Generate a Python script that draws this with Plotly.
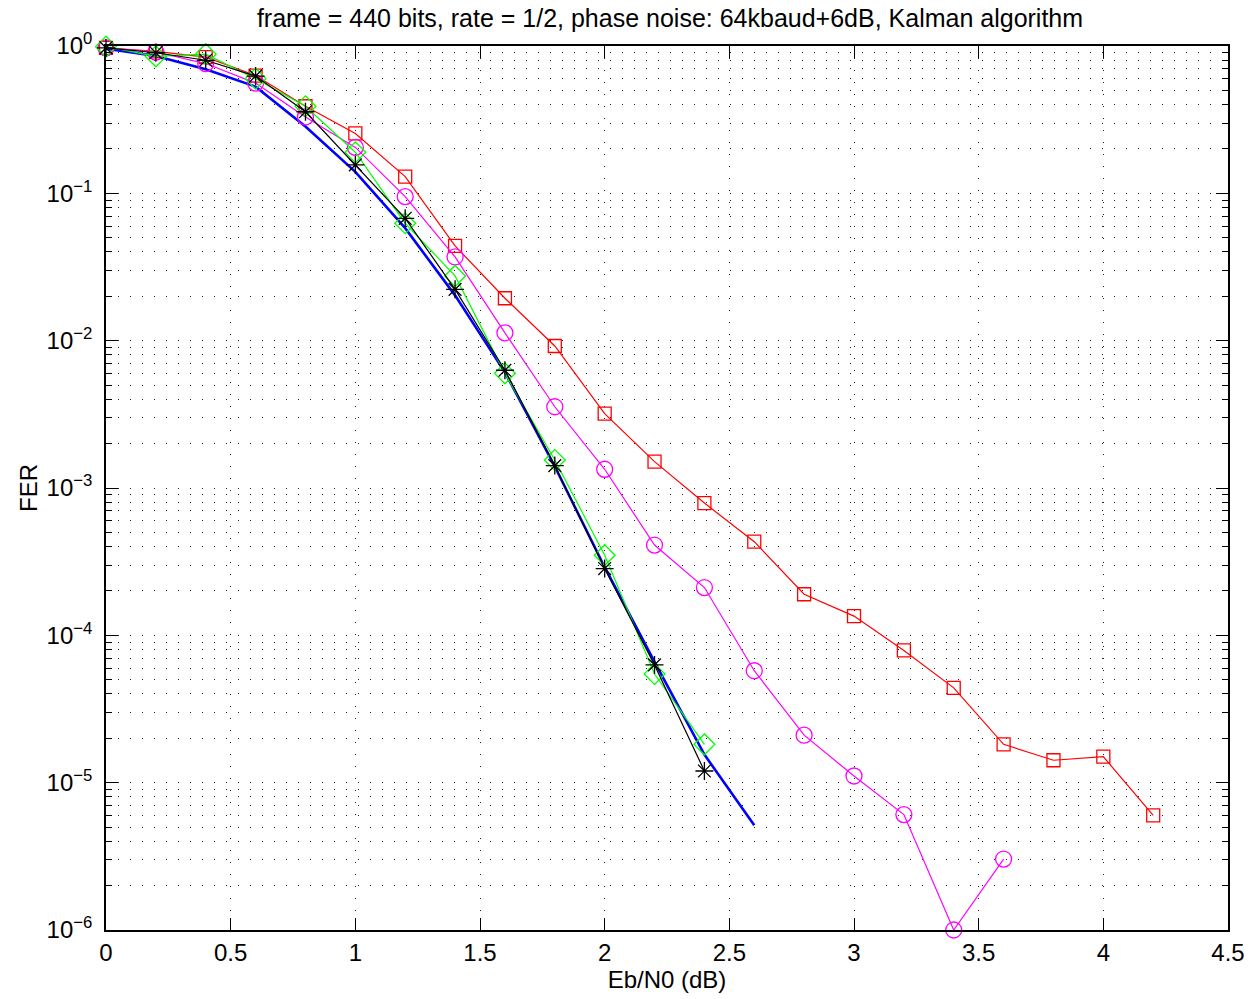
import plotly.graph_objects as go

x_red = [0, 0.2, 0.4, 0.6, 0.8, 1.0, 1.2, 1.4, 1.6, 1.8, 2.0, 2.2, 2.4, 2.6, 2.8, 3.0, 3.2, 3.4, 3.6, 3.8, 4.0, 4.2]
fer_red = [0.97, 0.92, 0.84, 0.63, 0.39, 0.255, 0.13, 0.044, 0.0194, 0.0092, 0.0032, 0.00151, 0.00079,
           0.000432, 0.00019, 0.000135, 7.9e-5, 4.4e-5, 1.82e-5, 1.42e-5, 1.5e-5, 6.0e-6]

x_mag = [0, 0.2, 0.4, 0.6, 0.8, 1.0, 1.2, 1.4, 1.6, 1.8, 2.0, 2.2, 2.4, 2.6, 2.8, 3.0, 3.2, 3.4, 3.6]
fer_mag = [0.97, 0.91, 0.76, 0.56, 0.33, 0.205, 0.095, 0.037, 0.0113, 0.00356, 0.00134, 0.00041,
           0.000211, 5.75e-5, 2.1e-5, 1.11e-5, 6.07e-6, 1.0e-6, 3.03e-6]

x_grn = [0, 0.2, 0.4, 0.6, 0.8, 1.0, 1.2, 1.4, 1.6, 1.8, 2.0, 2.2, 2.4]
fer_grn = [0.99, 0.85, 0.88, 0.6, 0.39, 0.19, 0.0626, 0.0275, 0.006, 0.00155, 0.00035, 5.46e-5, 1.82e-5]

x_blk = [0, 0.2, 0.4, 0.6, 0.8, 1.0, 1.2, 1.4, 1.6, 1.8, 2.0, 2.2, 2.4]
fer_blk = [0.97, 0.9, 0.80, 0.625, 0.358, 0.156, 0.0677, 0.0223, 0.0063, 0.00142, 0.000284, 6.3e-5, 1.2e-5]

x_blue = [0, 0.2, 0.4, 0.6, 0.8, 1.0, 1.2, 1.4, 1.6, 1.8, 2.0, 2.2, 2.4, 2.6]
fer_blue = [0.96, 0.855, 0.695, 0.53, 0.284, 0.14, 0.058, 0.0203, 0.0061, 0.0014, 0.00029, 6.6e-5, 1.55e-5, 5.15e-6]

x_ticks = [0, 0.5, 1, 1.5, 2, 2.5, 3, 3.5, 4, 4.5]
x_ticklabels = ["0", "0.5", "1", "1.5", "2", "2.5", "3", "3.5", "4", "4.5"]
y_exps = [0, -1, -2, -3, -4, -5, -6]

FONT = "Liberation Sans, Arial, Helvetica, sans-serif"
DOT = "1px,11px"
FS = 24

fig = go.Figure()
fig.add_trace(go.Scatter(x=x_blue, y=fer_blue, mode="lines", cliponaxis=False,
                         line=dict(color="#0000ff", width=2.6)))
fig.add_trace(go.Scatter(x=x_red, y=fer_red, mode="lines+markers", cliponaxis=False,
                         line=dict(color="#ff0000", width=1.2),
                         marker=dict(symbol="square-open", size=13, color="#ff0000", line=dict(width=1.3))))
fig.add_trace(go.Scatter(x=x_mag, y=fer_mag, mode="lines+markers", cliponaxis=False,
                         line=dict(color="#ff00ff", width=1.2),
                         marker=dict(symbol="circle-open", size=16, color="#ff00ff", line=dict(width=1.3))))
fig.add_trace(go.Scatter(x=x_grn, y=fer_grn, mode="lines+markers", cliponaxis=False,
                         line=dict(color="#00ff00", width=1.2),
                         marker=dict(symbol="diamond-open", size=16, color="#00ff00", line=dict(width=1.3))))
fig.add_trace(go.Scatter(x=x_blk, y=fer_blk, mode="lines+markers", cliponaxis=False,
                         line=dict(color="#000000", width=1.2),
                         marker=dict(symbol="asterisk-open", size=15, color="#000000", line=dict(width=1.3, color="#000000"))))

minor_vals = [k * 10.0 ** e for e in range(-6, 0) for k in range(2, 10)]

fig.update_layout(
    width=1249, height=999,
    margin=dict(l=106, r=21, t=46, b=69, autoexpand=False),
    paper_bgcolor="white", plot_bgcolor="white",
    showlegend=False,
    font=dict(family=FONT, size=FS, color="black"),
    title=dict(text="frame = 440 bits, rate = 1/2, phase noise: 64kbaud+6dB, Kalman algorithm",
               x=670 / 1249, xanchor="center", xref="container",
               y=1 - 18 / 999, yanchor="middle", font=dict(size=25)),
)
fig.update_xaxes(
    range=[0, 4.5], tickmode="array", tickvals=x_ticks, ticktext=x_ticklabels,
    ticks="inside", ticklen=12, tickwidth=1, tickcolor="black",
    showline=True, linecolor="black", linewidth=1.5, mirror="ticks",
    showgrid=True, gridcolor="#222222", gridwidth=1, griddash=DOT,
    zeroline=False, automargin=False,
    title=dict(text="Eb/N0 (dB)", standoff=6, font=dict(size=FS)),
)
fig.update_yaxes(
    type="log", range=[-6, 0], tickmode="array",
    tickvals=[10.0 ** e for e in y_exps],
    ticktext=["10<sup>%s</sup>" % (str(e).replace("-", "−")) for e in y_exps],
    ticks="inside", ticklen=12, tickwidth=1, tickcolor="black", ticklabelstandoff=7,
    showline=True, linecolor="black", linewidth=1.5, mirror="ticks",
    showgrid=True, gridcolor="#222222", gridwidth=1, griddash=DOT,
    minor=dict(tickmode="array", tickvals=minor_vals, ticks="inside", ticklen=6, tickcolor="black",
               showgrid=True, gridcolor="#222222", gridwidth=1, griddash=DOT),
    zeroline=False, automargin=False,
    title=dict(text="FER", standoff=2, font=dict(size=FS)),
)

fig.write_html("out.html")
